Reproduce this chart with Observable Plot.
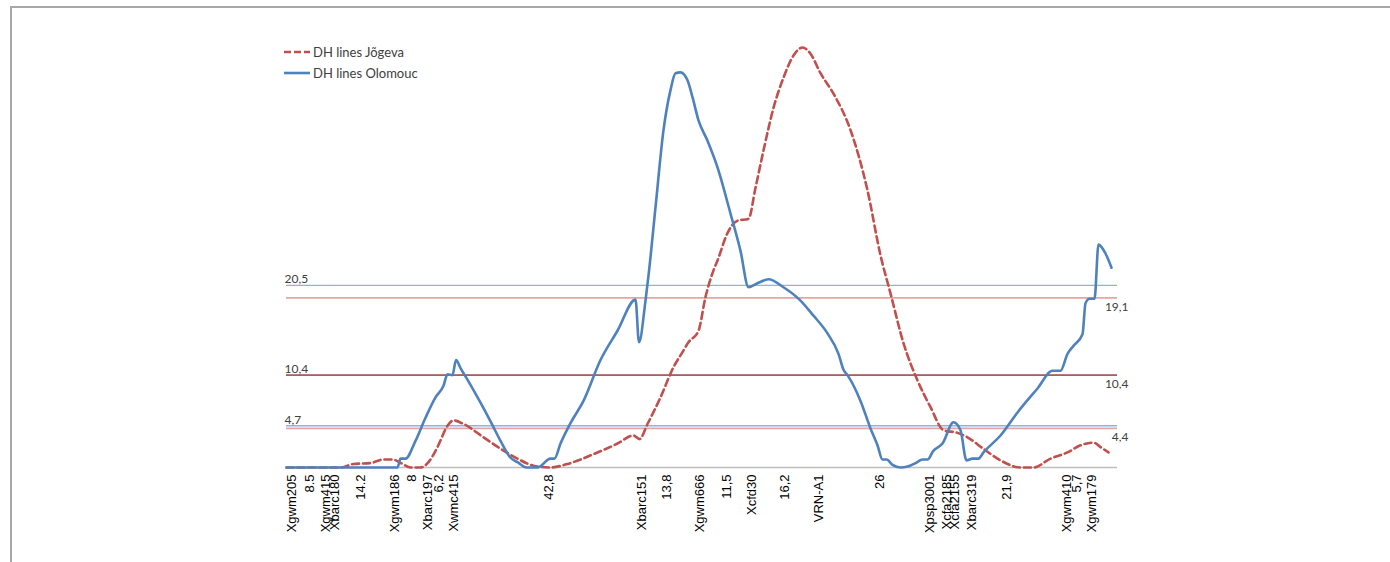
<!DOCTYPE html>
<html>
<head>
<meta charset="utf-8">
<script src="https://cdn.jsdelivr.net/npm/d3@7"></script>
<script src="https://cdn.jsdelivr.net/npm/@observablehq/plot@0.6"></script>
<style>
  html, body { margin: 0; padding: 0; background: #fff; }
  #wrap { position: relative; width: 1390px; height: 562px; overflow: hidden; }
  #frame { position: absolute; left: 10px; top: 6px; right: -4px; bottom: -4px;
           border-left: 2px solid #a8a8a8; border-top: 2px solid #a8a8a8; }
  #chart { position: absolute; left: 0; top: 0; }
  #legend { position: absolute; left: 284px; top: 41px; font-family: Lato, "Open Sans", sans-serif;
            font-size: 13px; color: #404040; }
  #legend .row { display: flex; align-items: center; height: 21px; }
  #legend svg { margin-right: 3px; }
</style>
</head>
<body>
<div id="wrap">
  <div id="frame"></div>
  <div id="chart"></div>
  <div id="legend"></div>
</div>
<script>
// Series names
const seriesNames = ["DH lines Jõgeva", "DH lines Olomouc"];

// DH lines Jõgeva (red dashed): position along chromosome, LOD value
const jogevaPos = [0, 10.8, 13.4, 16.8, 19.4, 21.2, 23.2, 24.8, 26.8, 28.4, 30.2, 32.2, 33.4, 35.4, 39.4, 43.4, 46.2, 49.4, 52.8, 56.2, 61.4, 66.2, 69.4, 70.6, 72.2, 74.8, 77.4, 79.2, 80.4, 82.4, 83.8, 85.4, 86.2, 88.2, 90.2, 92.4, 93.8, 95.4, 97.4, 99.4, 101.4, 103.2, 104.8, 106.8, 109.4, 112.8, 116.2, 118.8, 120.8, 123.4, 126.2, 128.8, 131.4, 134.2, 136.2, 139.4, 142.8, 146.8, 149.4, 152.8, 156.2, 158.8, 161.4, 162.8, 164.4];
const jogevaVal = [0, 0, 0.4, 0.5, 0.9, 0.9, 0.4, 0, 0, 0.6, 2.3, 4.7, 5.3, 4.9, 3.4, 1.9, 1.0, 0.2, 0, 0.4, 1.5, 2.7, 3.6, 3.2, 4.9, 7.9, 11.3, 13.0, 14.1, 15.4, 19.2, 22.2, 23.3, 26.4, 27.8, 28.0, 31.5, 35.7, 40.5, 43.9, 46.4, 47.3, 46.6, 44.4, 42.1, 38.0, 31.2, 23.9, 19.6, 14.0, 9.8, 6.8, 4.2, 3.9, 3.4, 2.1, 0.8, 0, 0, 1.0, 1.7, 2.5, 2.8, 2.3, 1.7];

// DH lines Olomouc (blue solid)
const olomoucPos = [0, 22.2, 22.8, 23.8, 25.8, 27.8, 29.8, 31.4, 32.2, 33.2, 33.9, 34.8, 36.8, 38.8, 40.8, 42.8, 44.8, 46.2, 48.0, 50.2, 52.8, 53.6, 54.8, 56.8, 59.4, 62.8, 66.2, 69.8, 70.5, 71.8, 72.4, 73.8, 75.4, 76.8, 77.8, 78.8, 80.2, 81.2, 82.4, 84.2, 86.2, 88.8, 90.8, 92.4, 94.4, 96.4, 99.4, 102.8, 105.4, 108.2, 110.4, 111.4, 112.2, 114.8, 116.8, 118.2, 119.2, 120.0, 121.2, 122.8, 124.2, 125.8, 127.2, 128.2, 129.4, 131.2, 133.4, 134.8, 136.0, 137.2, 138.4, 139.4, 142.8, 146.2, 150.2, 153.2, 154.8, 156.2, 157.4, 159.2, 159.8, 160.6, 161.6, 162.4, 163.8, 165.0];
const olomoucVal = [0, 0, 1.0, 1.0, 3.0, 5.6, 7.9, 9.2, 10.5, 10.4, 12.1, 11.2, 9.3, 7.3, 5.2, 3.0, 1.1, 0.6, 0, 0, 1.0, 1.0, 2.7, 5.0, 7.5, 12.1, 15.4, 18.9, 14.1, 18.8, 21.6, 29.3, 38.0, 42.5, 44.4, 44.5, 43.6, 41.7, 39.1, 36.8, 33.8, 28.6, 24.4, 20.3, 20.8, 21.2, 20.3, 18.8, 17.1, 15.1, 12.8, 11.0, 10.4, 7.5, 4.4, 2.5, 0.9, 0.9, 0.3, 0, 0.1, 0.5, 0.9, 0.9, 1.9, 2.7, 5.1, 4.2, 0.8, 1.0, 1.0, 1.7, 3.6, 6.2, 8.9, 10.9, 10.9, 12.8, 13.7, 15.0, 18.5, 19.0, 19.0, 25.1, 24.1, 22.5];

// Marker / distance labels along the x axis
const tickPos = [1.8, 5.4, 8.6, 10.4, 15.6, 22.4, 25.8, 29.0, 31.2, 34.2, 53.2, 71.8, 76.8, 83.4, 88.8, 93.8, 100.4, 107.2, 119.4, 129.4, 132.8, 134.4, 137.8, 144.8, 156.8, 158.8, 161.8];
const tickLabels = ["Xgwm205", "8.5", "Xgwm415", "Xbarc180", "14.2", "Xgwm186", "8", "Xbarc197", "6,2", "Xwmc415", "42,8", "Xbarc151", "13,8", "Xgwm666", "11,5", "Xcfd30", "16,2", "VRN-A1", "26", "Xpsp3001", "Xcfa2185", "Xcfa2155", "Xbarc319", "21,9", "Xgwm410", "5,7", "Xgwm179"];

// LOD thresholds
const olomoucThresholds = [20.5, 10.4, 4.7];   // labelled on the left
const jogevaThresholds = [19.1, 10.4, 4.4];    // labelled on the right
const olomoucThresholdLabels = ["20,5", "10,4", "4,7"];
const jogevaThresholdLabels = ["19,1", "10,4", "4,4"];

const colors = { jogeva: "#c0504d", olomouc: "#4f81bd" };

const jogeva = jogevaPos.map((p, i) => ({ pos: p, val: jogevaVal[i] }));
const olomouc = olomoucPos.map((p, i) => ({ pos: p, val: olomoucVal[i] }));
const ticks = tickPos.map((p, i) => ({ pos: p, label: tickLabels[i] }));
const oThr = olomoucThresholds.map((v, i) => ({ v, label: olomoucThresholdLabels[i] }));
const jThr = jogevaThresholds.map((v, i) => ({ v, label: jogevaThresholdLabels[i] }));

const chart = Plot.plot({
  width: 1390,
  height: 562,
  marginLeft: 286,
  marginRight: 273,
  marginTop: 23,
  marginBottom: 95,
  x: { domain: [0, 166.2], axis: null },
  y: { domain: [0, 50], axis: null },
  style: { background: "transparent", overflow: "visible" },
  marks: [
    Plot.ruleY(oThr, { y: "v", stroke: "#8db3e2", strokeWidth: 1.3 }),
    Plot.ruleY(jThr, { y: "v", stroke: d => olomoucThresholds.includes(d.v) ? "#b55a5a" : "#e6a5a5", strokeWidth: 1.8 }),
    Plot.ruleY([0], { stroke: "#bfbfbf", strokeWidth: 1.5 }),
    Plot.text(oThr, { y: "v", text: "label", frameAnchor: "left", textAnchor: "start", dx: -2, dy: -6,
      fontFamily: "Lato, 'Open Sans', sans-serif", fontSize: 12, fill: "#404040" }),
    Plot.text(jThr, { y: "v", text: "label", frameAnchor: "right", textAnchor: "end", dx: 11, dy: 9,
      fontFamily: "Lato, 'Open Sans', sans-serif", fontSize: 12, fill: "#404040" }),
    Plot.line(jogeva, { x: "pos", y: "val", stroke: colors.jogeva, strokeWidth: 2.6,
      strokeDasharray: "7,4", curve: "monotone-x" }),
    Plot.line(olomouc, { x: "pos", y: "val", stroke: colors.olomouc, strokeWidth: 2.6, curve: "monotone-x" }),
    Plot.text(ticks, { x: "pos", text: "label", frameAnchor: "bottom", rotate: -90, textAnchor: "end",
      dy: 7, fontFamily: "'Liberation Sans', Arial, sans-serif", fontSize: 13, fill: "#000" })
  ]
});
document.getElementById("chart").appendChild(chart);

// Legend
const legend = d3.select("#legend");
[{ name: seriesNames[0], color: colors.jogeva, dash: "7,3" }, { name: seriesNames[1], color: colors.olomouc, dash: null }]
  .forEach(s => {
    const row = legend.append("div").attr("class", "row");
    const sv = row.append("svg").attr("width", 26).attr("height", 6);
    sv.append("line").attr("x1", 0).attr("x2", 26).attr("y1", 3).attr("y2", 3)
      .attr("stroke", s.color).attr("stroke-width", 2.6).attr("stroke-dasharray", s.dash);
    row.append("span").text(s.name);
  });
</script>
</body>
</html>
